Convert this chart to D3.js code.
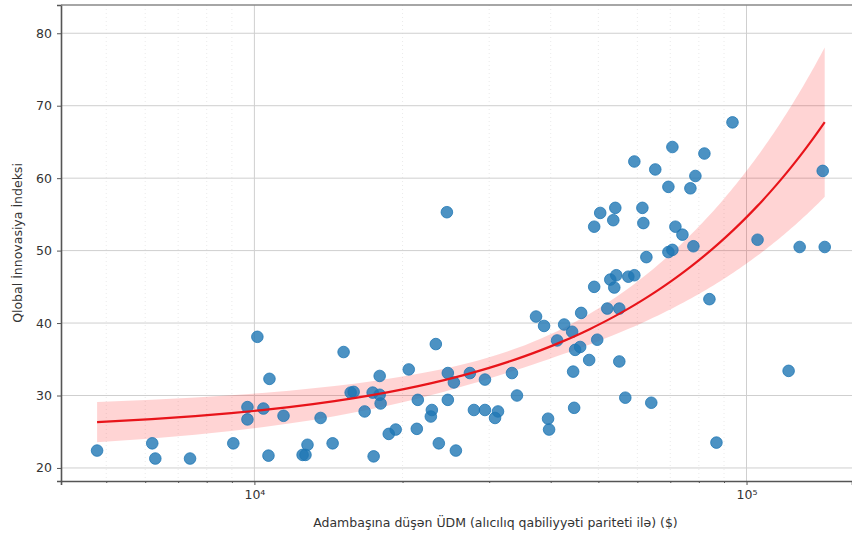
<!DOCTYPE html>
<html>
<head>
<meta charset="utf-8">
<script src="https://cdn.jsdelivr.net/npm/d3@7"></script>
<style>
  body { margin: 0; background: #fff; }
  text { font-family: "DejaVu Sans", sans-serif; }
</style>
</head>
<body>
<svg id="chart" width="852" height="533"></svg>
<script>
// GDP per capita (PPP, $) and Global Innovation Index
const gdp = [4790, 6200, 6290, 7400, 9060, 9680, 9680, 10140, 10430, 10730,
  10680, 11460, 12530, 12700, 12820, 13630, 14420, 15180, 15690, 15910,
  16750, 17470, 17390, 17970, 17970, 18050, 18750, 19370, 20590, 21480,
  21380, 22940, 22830, 23370, 23700, 24720, 25430, 24720, 25670, 24610,
  27410, 27930, 29410, 29410, 31260, 30830, 33370, 34160, 37350, 38780,
  39510, 39700, 41220, 42600, 44220, 44430, 44640, 44850, 45910, 46130,
  47890, 49730, 49030, 52120, 55140, 52860, 54370, 53860, 57520, 59160,
  55140, 56710, 64040, 84060, 86870, 121760, 49030, 50430, 54120, 53610,
  61430, 61710, 59160, 70690, 82110, 93640, 65250, 78720, 69380, 76900,
  142820, 71690, 74090, 77990, 69380, 70690, 62590, 105290, 128220, 144170];
const gii = [22.4, 23.4, 21.3, 21.3, 23.4, 28.4, 26.7, 38.1, 28.2, 32.3,
  21.7, 27.2, 21.8, 21.8, 23.2, 26.9, 23.4, 36.0, 30.4, 30.5,
  27.8, 21.6, 30.4, 30.1, 32.7, 28.9, 24.7, 25.3, 33.6, 29.4,
  25.4, 28.0, 27.1, 37.1, 23.4, 33.1, 31.8, 29.4, 22.4, 55.3,
  33.1, 28.0, 28.0, 32.2, 27.8, 26.9, 33.1, 30.0, 40.9, 39.6,
  26.8, 25.3, 37.6, 39.8, 38.8, 33.3, 28.3, 36.3, 36.7, 41.4,
  34.9, 37.7, 45.0, 42.0, 42.0, 46.0, 46.6, 44.9, 46.4, 46.6,
  34.7, 29.7, 29.0, 43.3, 23.5, 33.4, 53.3, 55.2, 55.9, 54.2,
  55.9, 53.8, 62.3, 64.3, 63.4, 67.7, 61.2, 60.3, 58.8, 58.6,
  61.0, 53.3, 52.2, 50.6, 49.8, 50.1, 49.1, 51.5, 50.5, 50.5];

const xDomain = [4046, 163800];
const yDomain = [18.2, 83.9];
const xTicks = [1e4, 1e5];
const xMinorTicks = [5e3, 6e3, 7e3, 8e3, 9e3, 2e4, 3e4, 4e4, 5e4, 6e4, 7e4, 8e4, 9e4];
const yTicks = [20, 30, 40, 50, 60, 70, 80];
const xLabel = "Adambaşına düşən ÜDM (alıcılıq qabiliyyəti pariteti ilə) ($)";
const yLabel = "Qlobal İnnovasiya İndeksi";

function vis() {
  var svg = d3.select("#chart"),
      margin = {top: 5, right: 0, bottom: 52, left: 61},
      width = +svg.attr("width") - margin.left - margin.right,
      height = +svg.attr("height") - margin.top - margin.bottom;

  var g = svg.append("g").attr("transform", "translate(" + margin.left + "," + margin.top + ")");

  var x = d3.scaleLog().domain(xDomain).range([0, width]),
      y = d3.scaleLinear().domain(yDomain).range([height, 0]);

  // grid
  g.selectAll(".minor-grid").data(xMinorTicks).enter().append("line")
    .attr("x1", d => x(d)).attr("x2", d => x(d))
    .attr("y1", 0).attr("y2", height)
    .attr("stroke", "#e4e4e4").attr("stroke-width", 0.8)
    .attr("stroke-dasharray", "1,3");
  g.selectAll(".hgrid").data(yTicks).enter().append("line")
    .attr("x1", 0).attr("x2", width)
    .attr("y1", d => y(d)).attr("y2", d => y(d))
    .attr("stroke", "#cfcfcf").attr("stroke-width", 1);
  g.selectAll(".vgrid").data(xTicks).enter().append("line")
    .attr("x1", d => x(d)).attr("x2", d => x(d))
    .attr("y1", 0).attr("y2", height)
    .attr("stroke", "#cfcfcf").attr("stroke-width", 1);

  // linear fit y ~ x with robust (HC3) 95% band
  var n = gdp.length,
      xbar = d3.mean(gdp), ybar = d3.mean(gii),
      sxx = d3.sum(gdp, v => (v - xbar) * (v - xbar)),
      sxy = d3.sum(gdp, (v, i) => (v - xbar) * (gii[i] - ybar)),
      b = sxy / sxx, a = ybar - b * xbar;
  var m00 = 0, m01 = 0, m11 = 0;
  gdp.forEach(function(v, i) {
    var d = v - xbar,
        e = gii[i] - (a + b * v),
        h = 1 / n + d * d / sxx,
        w = e * e / ((1 - h) * (1 - h));
    m00 += w; m01 += w * d; m11 += w * d * d;
  });
  var v00 = m00 / (n * n), v01 = m01 / (n * sxx), v11 = m11 / (sxx * sxx);

  var lo = d3.min(gdp), hi = d3.max(gdp);
  var grid = d3.range(101).map(i => lo + (hi - lo) * i / 100);
  var fit = grid.map(function(v) {
    var d = v - xbar,
        se = Math.sqrt(v00 + 2 * d * v01 + d * d * v11),
        yh = a + b * v;
    return {x: v, y: yh, lo: yh - 1.98 * se, hi: yh + 1.98 * se};
  });

  g.append("path")
    .datum(fit)
    .attr("d", d3.area().x(d => x(d.x)).y0(d => y(d.lo)).y1(d => y(d.hi)))
    .attr("fill", "red").attr("fill-opacity", 0.17);

  // points
  g.selectAll("circle")
    .data(gdp)
    .enter().append("circle")
    .attr("cx", d => x(d))
    .attr("cy", (d, i) => y(gii[i]))
    .attr("r", 5.8)
    .attr("fill", "#1f77b4").attr("fill-opacity", 0.8)
    .attr("stroke", "#1f77b4").attr("stroke-opacity", 0.8).attr("stroke-width", 1);

  g.append("path")
    .datum(fit)
    .attr("d", d3.line().x(d => x(d.x)).y(d => y(d.y)))
    .attr("fill", "none").attr("stroke", "#e8141a").attr("stroke-width", 2.2);

  // axes
  var sup = "⁰¹²³⁴⁵⁶⁷⁸⁹";
  var xAxis = g.append("g")
    .attr("transform", "translate(0," + height + ")")
    .call(d3.axisBottom(x).tickValues(xTicks).tickSize(4).tickPadding(5)
      .tickFormat(d => "10" + sup[Math.round(Math.log10(d))]));
  g.append("g")
    .attr("transform", "translate(0," + height + ")")
    .call(d3.axisBottom(x).tickValues(xMinorTicks).tickSize(2).tickFormat(""))
    .call(s => s.select(".domain").remove())
    .selectAll("line").attr("stroke", "#555");
  var yAxis = g.append("g")
    .call(d3.axisLeft(y).tickValues(yTicks).tickSize(4).tickPadding(5));

  [xAxis, yAxis].forEach(function(ax) {
    ax.select(".domain").attr("stroke", "#555").attr("stroke-width", 1.6);
    ax.selectAll(".tick line").attr("stroke", "#555");
    ax.selectAll("text").attr("fill", "#333").style("font-size", "12.5px");
  });

  // top spine
  g.append("line")
    .attr("x1", 0).attr("x2", width).attr("y1", 0).attr("y2", 0)
    .attr("stroke", "#888").attr("stroke-width", 1.6);

  svg.append("text")
    .attr("x", margin.left + x(Math.sqrt(1e4 * 1e5)) - 5)
    .attr("y", 527)
    .attr("text-anchor", "middle")
    .attr("fill", "#333")
    .style("font-size", "12.5px")
    .text(xLabel);

  svg.append("text")
    .attr("transform", "translate(22," + (margin.top + height / 2) + ") rotate(-90)")
    .attr("text-anchor", "middle")
    .attr("fill", "#333")
    .style("font-size", "12.5px")
    .text(yLabel);
}

vis();
</script>
</body>
</html>
